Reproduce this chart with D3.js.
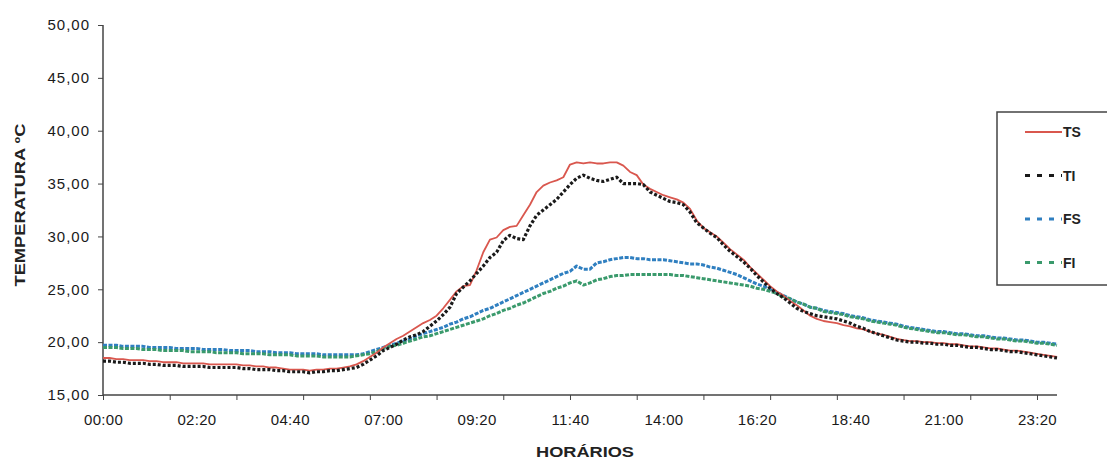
<!DOCTYPE html>
<html>
<head>
<meta charset="utf-8">
<script src="https://cdn.jsdelivr.net/npm/d3@7"></script>
<style>
  body { margin: 0; background: #fff; }
  svg { display: block; font-family: "Liberation Sans", Arial, sans-serif; }
  .axis path, .axis line { stroke: #444; }
  .axis text { fill: #1a1a1a; font-size: 15px; }
  .y-axis text { letter-spacing: 1px; }
  .x-labels text { letter-spacing: 0.3px; }
</style>
</head>
<body>
<div class="chart"></div>
<script>
// readings every 10 minutes, 00:00 -> 23:50
var stepMinutes = 10;

var ts = [
  18.5, 18.5, 18.4, 18.4, 18.3, 18.3, 18.3, 18.2, 18.2, 18.1, 18.1, 18.1,
  18.0, 18.0, 18.0, 18.0, 17.9, 17.9, 17.9, 17.9, 17.9, 17.8, 17.8, 17.7,
  17.7, 17.6, 17.6, 17.5, 17.4, 17.4, 17.4, 17.3, 17.4, 17.4, 17.5, 17.5,
  17.6, 17.7, 17.9, 18.2, 18.6, 19.0, 19.5, 19.9, 20.3, 20.6, 21.0, 21.4,
  21.8, 22.1, 22.5, 23.2, 24.0, 24.8, 25.3, 25.4, 26.8, 28.5, 29.7, 29.9,
  30.6, 30.9, 31.0, 32.0, 33.0, 34.2, 34.8, 35.1, 35.3, 35.6, 36.8, 37.0,
  36.9, 37.0, 36.9, 36.9, 37.0, 37.0, 36.7, 36.1, 35.8, 34.9, 34.5, 34.2,
  33.9, 33.7, 33.5, 33.2, 32.6, 31.5, 30.8, 30.4, 30.0, 29.4, 28.8, 28.3,
  27.8, 27.1, 26.5, 25.9, 25.3, 24.8, 24.4, 23.9, 23.5, 23.0, 22.5, 22.2,
  22.0, 21.9, 21.8, 21.6, 21.5, 21.3, 21.2, 21.0, 20.8, 20.7, 20.5, 20.3,
  20.2, 20.1, 20.1, 20.0, 20.0, 19.9, 19.9, 19.8, 19.8, 19.7, 19.6, 19.6,
  19.5, 19.4, 19.4, 19.3, 19.2, 19.2, 19.1, 19.0, 18.9, 18.8, 18.7, 18.6
];

var ti = [
  18.2, 18.2, 18.1, 18.1, 18.0, 18.0, 18.0, 17.9, 17.9, 17.8, 17.8, 17.8,
  17.7, 17.7, 17.7, 17.7, 17.6, 17.6, 17.6, 17.6, 17.6, 17.5, 17.5, 17.4,
  17.4, 17.4, 17.3, 17.3, 17.2, 17.2, 17.2, 17.1, 17.2, 17.2, 17.3, 17.3,
  17.4, 17.5, 17.6, 17.9, 18.3, 18.7, 19.2, 19.5, 19.8, 20.2, 20.5, 20.7,
  21.0, 21.5, 22.0, 22.6, 23.3, 24.6, 25.2, 25.8, 26.5, 27.2, 28.0, 28.5,
  29.6, 30.1, 29.8, 29.7, 31.0, 32.0, 32.5, 33.0, 33.5, 34.2, 34.9, 35.5,
  35.8, 35.5, 35.3, 35.2, 35.4, 35.6, 35.0, 35.0, 35.0, 34.9, 34.2, 33.9,
  33.6, 33.3, 33.2, 33.0, 32.3, 31.3, 30.8, 30.3, 29.9, 29.2, 28.6, 28.1,
  27.6, 27.0, 26.3, 25.7, 25.1, 24.6, 24.2, 23.7, 23.2, 22.9, 22.7, 22.5,
  22.4, 22.3, 22.2, 22.0, 21.8, 21.5, 21.3, 21.0, 20.8, 20.6, 20.4, 20.2,
  20.1, 20.0, 20.0, 19.9, 19.9, 19.8, 19.8, 19.7, 19.7, 19.6, 19.5, 19.5,
  19.4, 19.3, 19.3, 19.2, 19.1, 19.1, 19.0, 18.9, 18.8, 18.7, 18.6, 18.5
];

var fs = [
  19.7, 19.7, 19.7, 19.6, 19.6, 19.6, 19.6, 19.5, 19.5, 19.5, 19.5, 19.4,
  19.4, 19.4, 19.4, 19.3, 19.3, 19.3, 19.3, 19.2, 19.2, 19.2, 19.2, 19.1,
  19.1, 19.1, 19.0, 19.0, 19.0, 18.9, 18.9, 18.9, 18.9, 18.8, 18.8, 18.8,
  18.8, 18.8, 18.8, 18.9, 19.1, 19.3, 19.5, 19.7, 19.9, 20.1, 20.3, 20.6,
  20.8, 21.0, 21.2, 21.4, 21.7, 21.9, 22.2, 22.4, 22.7, 23.0, 23.2, 23.5,
  23.8, 24.1, 24.4, 24.7, 25.0, 25.3, 25.6, 25.9, 26.2, 26.5, 26.7, 27.2,
  26.9, 26.9, 27.5, 27.6, 27.8, 27.9, 28.0, 28.0, 27.9, 27.9, 27.8, 27.8,
  27.8, 27.7, 27.6, 27.5, 27.4, 27.4, 27.3, 27.1, 27.0, 26.8, 26.6, 26.4,
  26.1, 25.8, 25.5, 25.3, 25.0, 24.7, 24.4, 24.1, 23.8, 23.6, 23.3, 23.2,
  23.0, 22.9, 22.8, 22.7, 22.5, 22.4, 22.3, 22.1, 22.0, 21.9, 21.8, 21.7,
  21.5, 21.4, 21.3, 21.2, 21.1, 21.0, 21.0, 20.9, 20.8, 20.8, 20.7, 20.6,
  20.6, 20.5, 20.4, 20.4, 20.3, 20.2, 20.2, 20.1, 20.0, 20.0, 19.9, 19.8
];

var fi = [
  19.5, 19.5, 19.5, 19.4, 19.4, 19.4, 19.3, 19.3, 19.3, 19.2, 19.2, 19.2,
  19.2, 19.1, 19.1, 19.1, 19.1, 19.0, 19.0, 19.0, 19.0, 18.9, 18.9, 18.9,
  18.9, 18.8, 18.8, 18.8, 18.8, 18.7, 18.7, 18.7, 18.7, 18.6, 18.6, 18.6,
  18.6, 18.6, 18.7, 18.8, 18.9, 19.1, 19.4, 19.6, 19.7, 19.9, 20.1, 20.3,
  20.5, 20.6, 20.8, 21.0, 21.2, 21.4, 21.6, 21.8, 22.0, 22.2, 22.5, 22.7,
  23.0, 23.2, 23.5, 23.7, 24.0, 24.3, 24.6, 24.8, 25.1, 25.3, 25.6, 25.8,
  25.4, 25.6, 25.9, 26.0, 26.2, 26.3, 26.3, 26.4, 26.4, 26.4, 26.4, 26.4,
  26.4, 26.4, 26.3, 26.3, 26.2, 26.1, 26.0, 25.9, 25.8, 25.7, 25.6, 25.5,
  25.4, 25.3, 25.1, 25.0, 24.8, 24.6, 24.3, 24.1, 23.8, 23.6, 23.3, 23.2,
  22.9, 22.8, 22.7, 22.6, 22.4, 22.3, 22.2, 22.0, 21.9, 21.8, 21.7, 21.6,
  21.4, 21.3, 21.2, 21.1, 21.0, 20.9, 20.9, 20.8, 20.7, 20.7, 20.6, 20.5,
  20.5, 20.4, 20.3, 20.3, 20.2, 20.1, 20.1, 20.0, 19.9, 19.9, 19.8, 19.7
];

var seriesNames = ["TS", "TI", "FS", "FI"];
var xTickLabels = ["00:00", "02:20", "04:40", "07:00", "09:20", "11:40",
                   "14:00", "16:20", "18:40", "21:00", "23:20"];
var yTicks = [15, 20, 25, 30, 35, 40, 45, 50];

var svgWidth = 1107;
var svgHeight = 459;
var margin = { top: 25, right: 50, bottom: 64, left: 103 };
var width = svgWidth - margin.left - margin.right;
var height = svgHeight - margin.top - margin.bottom;

var svg = d3.select(".chart").append("svg")
  .attr("width", svgWidth)
  .attr("height", svgHeight);

var chartGroup = svg.append("g")
  .attr("transform", `translate(${margin.left}, ${margin.top})`);

var lastMinute = (ts.length - 1) * stepMinutes;
var xScale = d3.scaleLinear().domain([0, lastMinute]).range([0, width]);
var yScale = d3.scaleLinear().domain([15, 50]).range([height, 0]);

var ptBR = d3.formatLocale({ decimal: ",", thousands: ".", grouping: [3], currency: ["", ""] });
var yFmt = ptBR.format(".2f");

// x axis: small ticks every 100 min, labels every 140 min
var minorAxis = d3.axisBottom(xScale)
  .tickValues(d3.range(0, lastMinute + 1, 100))
  .tickSize(5)
  .tickFormat("");
chartGroup.append("g")
  .attr("class", "axis")
  .attr("transform", `translate(0, ${height})`)
  .call(minorAxis)
  .call(g => g.select(".domain").attr("d", `M0,0H${width}`).attr("stroke-width", 1.5));

var labelAxis = d3.axisBottom(xScale)
  .tickValues(xTickLabels.map((d, i) => i * 140))
  .tickSize(0)
  .tickPadding(19)
  .tickFormat((d, i) => xTickLabels[i]);
chartGroup.append("g")
  .attr("class", "axis x-labels")
  .attr("transform", `translate(0, ${height})`)
  .call(labelAxis)
  .call(g => g.select(".domain").remove());

// y axis
var leftAxis = d3.axisLeft(yScale)
  .tickValues(yTicks)
  .tickSize(5)
  .tickPadding(8)
  .tickFormat(yFmt);
chartGroup.append("g")
  .attr("class", "axis y-axis")
  .call(leftAxis)
  .call(g => g.select(".domain").attr("d", `M0,0V${height}`).attr("stroke-width", 1.5));

// lines
var styles = {
  TS: { data: ts, color: "#d9574e", width: 1.8, dash: null },
  TI: { data: ti, color: "#1a1a1a", width: 3.2, dash: "3,2" },
  FS: { data: fs, color: "#2f7fc0", width: 3, dash: "4,1.5" },
  FI: { data: fi, color: "#3a9a6c", width: 3, dash: "4,1.5" }
};

var line = d3.line()
  .x((d, i) => xScale(i * stepMinutes))
  .y(d => yScale(d));

["FS", "FI", "TS", "TI"].forEach(function (name) {
  var s = styles[name];
  chartGroup.append("path")
    .datum(s.data)
    .attr("fill", "none")
    .attr("stroke", s.color)
    .attr("stroke-width", s.width)
    .attr("stroke-dasharray", s.dash)
    .attr("stroke-linejoin", "round")
    .attr("d", line);
});

// axis titles
svg.append("text")
  .attr("transform", "translate(25, 205) rotate(-90)")
  .attr("text-anchor", "middle")
  .attr("font-size", 14.5)
  .attr("font-weight", "bold")
  .attr("fill", "#222")
  .attr("textLength", 163)
  .attr("lengthAdjust", "spacingAndGlyphs")
  .text("TEMPERATURA ºC");

svg.append("text")
  .attr("x", 585)
  .attr("y", 457)
  .attr("text-anchor", "middle")
  .attr("font-size", 15)
  .attr("font-weight", "bold")
  .attr("fill", "#222")
  .attr("textLength", 98)
  .attr("lengthAdjust", "spacingAndGlyphs")
  .text("HORÁRIOS");

// legend
var legend = svg.append("g").attr("transform", "translate(997, 112)");
legend.append("rect")
  .attr("width", 130)
  .attr("height", 173)
  .attr("fill", "#fff")
  .attr("stroke", "#444")
  .attr("stroke-width", 1.5);

var items = legend.selectAll("g.item")
  .data(seriesNames)
  .enter()
  .append("g")
  .attr("class", "item")
  .attr("transform", (d, i) => `translate(0, ${20 + i * 43.5})`);

items.append("line")
  .attr("x1", 28)
  .attr("x2", 65)
  .attr("stroke", d => styles[d].color)
  .attr("stroke-width", d => d == "TS" ? 1.8 : 3)
  .attr("stroke-dasharray", d => d == "TS" ? null : "5,7");

items.append("text")
  .attr("x", 66)
  .attr("y", 5)
  .attr("font-size", 14)
  .attr("font-weight", "bold")
  .attr("fill", "#222")
  .text(d => d);
</script>
</body>
</html>
